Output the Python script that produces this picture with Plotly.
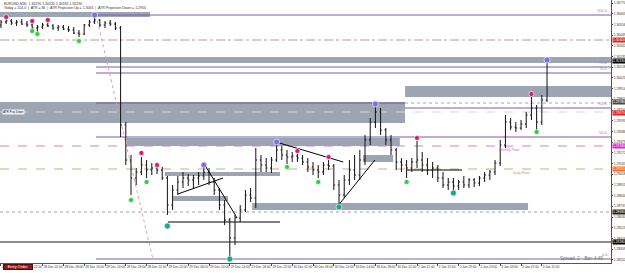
import plotly.graph_objects as go

# ---------------- data ----------------
TIME_TICK_BARS = [0, 4, 8, 12, 16, 20, 24, 28, 32, 36, 40, 44, 48, 52, 56, 60, 64, 68, 72, 76, 80, 84, 88, 92, 96, 100, 104]
TIME_LABELS = ["27 Dec 18:00", "27 Dec 22:00", "28 Dec 02:00", "28 Dec 06:00", "28 Dec 10:00", "28 Dec 14:00",
               "28 Dec 18:00", "28 Dec 22:00", "29 Dec 02:00", "29 Dec 06:00", "29 Dec 10:00", "29 Dec 14:00",
               "29 Dec 18:00", "29 Dec 22:00", "30 Dec 02:00", "30 Dec 06:00", "30 Dec 10:00", "30 Dec 14:00",
               "30 Dec 18:00", "30 Dec 22:00", "2 Jan 11:00", "2 Jan 15:00", "2 Jan 19:00", "2 Jan 23:00",
               "3 Jan 03:00", "3 Jan 07:00", "3 Jan 11:00"]

OPEN_FIRST = 1.3055
HIGH = [1.3060, 1.3062, 1.3061, 1.3060, 1.3061, 1.3059, 1.3057, 1.3055, 1.3057, 1.3058,
        1.3056, 1.3055, 1.3055, 1.3054, 1.3053, 1.3050, 1.3056, 1.3060, 1.3063, 1.3061,
        1.3059, 1.3060, 1.3058, 1.3054, 1.2958, 1.2925, 1.2912, 1.2923, 1.2920, 1.2917,
        1.2914, 1.2913, 1.2904, 1.2895, 1.2904, 1.2908, 1.2906, 1.2905, 1.2908, 1.2913,
        1.2912, 1.2902, 1.2892, 1.2880, 1.2862, 1.2865, 1.2875, 1.2890, 1.2892, 1.2932,
        1.2925, 1.2922, 1.2923, 1.2936, 1.2934, 1.2930, 1.2928, 1.2926, 1.2925, 1.2922,
        1.2918, 1.2915, 1.2918, 1.2920, 1.2916, 1.2900, 1.2905, 1.2920, 1.2925, 1.2930,
        1.2945, 1.2962, 1.2974, 1.2972, 1.2952, 1.2945, 1.2932, 1.2922, 1.2920, 1.2922,
        1.2939, 1.2928, 1.2922, 1.2918, 1.2915, 1.2908, 1.2902, 1.2902, 1.2900, 1.2904,
        1.2902, 1.2902, 1.2904, 1.2908, 1.2910, 1.2920, 1.2940, 1.2965, 1.2962, 1.2958,
        1.2960, 1.2968, 1.2983, 1.2975, 1.2985, 1.3022]
LOW = [1.3052, 1.3056, 1.3055, 1.3054, 1.3055, 1.3053, 1.3051, 1.3048, 1.3051, 1.3053,
       1.3050, 1.3049, 1.3050, 1.3048, 1.3046, 1.3043, 1.3045, 1.3053, 1.3056, 1.3053,
       1.3052, 1.3054, 1.3050, 1.2943, 1.2915, 1.2885, 1.2895, 1.2905, 1.2902, 1.2905,
       1.2906, 1.2900, 1.2865, 1.2870, 1.2885, 1.2892, 1.2894, 1.2892, 1.2895, 1.2900,
       1.2895, 1.2885, 1.2870, 1.2855, 1.2824, 1.2835, 1.2858, 1.2868, 1.2878, 1.2872,
       1.2908, 1.2908, 1.2907, 1.2918, 1.2920, 1.2916, 1.2918, 1.2918, 1.2915, 1.2908,
       1.2905, 1.2902, 1.2905, 1.2910, 1.2890, 1.2876, 1.2882, 1.2895, 1.2900, 1.2900,
       1.2915, 1.2935, 1.2952, 1.2945, 1.2935, 1.2925, 1.2910, 1.2908, 1.2902, 1.2908,
       1.2912, 1.2908, 1.2905, 1.2902, 1.2898, 1.2892, 1.2890, 1.2890, 1.2890, 1.2892,
       1.2892, 1.2893, 1.2894, 1.2898, 1.2900, 1.2905, 1.2914, 1.2932, 1.2950, 1.2948,
       1.2950, 1.2952, 1.2960, 1.2950, 1.2955, 1.2978]
CLOSE = [1.3058, 1.3059, 1.3057, 1.3058, 1.3056, 1.3055, 1.3052, 1.3053, 1.3055, 1.3054,
         1.3052, 1.3053, 1.3051, 1.3050, 1.3047, 1.3046, 1.3055, 1.3058, 1.3060, 1.3055,
         1.3057, 1.3056, 1.3052, 1.2955, 1.2920, 1.2902, 1.2908, 1.2915, 1.2910, 1.2912,
         1.2910, 1.2902, 1.2875, 1.2890, 1.2898, 1.2902, 1.2900, 1.2902, 1.2904, 1.2908,
         1.2898, 1.2890, 1.2875, 1.2860, 1.2842, 1.2862, 1.2870, 1.2885, 1.2882, 1.2920,
         1.2915, 1.2912, 1.2920, 1.2930, 1.2925, 1.2923, 1.2924, 1.2922, 1.2918, 1.2913,
         1.2910, 1.2908, 1.2915, 1.2914, 1.2895, 1.2885, 1.2900, 1.2910, 1.2905, 1.2920,
         1.2940, 1.2958, 1.2968, 1.2950, 1.2940, 1.2930, 1.2918, 1.2915, 1.2912, 1.2918,
         1.2920, 1.2915, 1.2910, 1.2912, 1.2902, 1.2895, 1.2898, 1.2894, 1.2898, 1.2895,
         1.2900, 1.2897, 1.2902, 1.2905, 1.2908, 1.2917, 1.2935, 1.2958, 1.2953, 1.2952,
         1.2956, 1.2965, 1.2972, 1.2958, 1.2980, 1.3019]
BARS = list(range(len(CLOSE)))
OPEN = [OPEN_FIRST] + CLOSE[:-1]

PRICE_TICKS = [1.30770, 1.30663, 1.30556, 1.30449, 1.30342, 1.30235, 1.30128, 1.30021, 1.29914,
               1.29807, 1.29700, 1.29593, 1.29486, 1.29379, 1.29272, 1.29165, 1.29058, 1.28951,
               1.28844, 1.28737, 1.28630, 1.28523, 1.28416, 1.28309, 1.28202]

# swing markers (bar index, price)
HI_BARS = [1, 6, 9, 27, 30, 57, 63, 80, 102]
HI_PRICE = [1.3063, 1.3059, 1.3060, 1.2927, 1.2915, 1.2929, 1.2923, 1.2942, 1.2986]
LO_BARS = [6, 7, 15, 25, 28, 55, 61, 78, 103]
LO_PRICE = [1.3049, 1.3046, 1.3039, 1.2880, 1.2898, 1.2913, 1.2898, 1.2898, 1.2948]
MAJ_HI_BARS = [18, 39, 53, 72, 105]
MAJ_HI_PRICE = [1.3065, 1.2915, 1.2938, 1.2976, 1.3020]
MAJ_LO_BARS = [32, 44, 65, 87]
MAJ_LO_PRICE = [1.2854, 1.2821, 1.2873, 1.2887]

XL, XR = -0.19, 117.3
YB, YT = 1.2817, 1.3080

# supply / demand zones: x0, x1, low, high
ZONES = [(XL, 28.65, 1.3063, 1.3068), (XL, XR, 1.3017, 1.3023), (77.7, XR, 1.2983, 1.2994),
         (XL, 77.7, 1.2957, 1.2978), (24.2, 76.7, 1.2934, 1.2942), (69.6, 75.4, 1.2918, 1.2925),
         (31.5, 53.65, 1.2904, 1.2908), (33.1, 43.65, 1.2879, 1.2884), (48.3, 101.35, 1.2870, 1.2877)]

FIB_START = 18.27
FIB_LEVELS = [("100.0", 1.3065, FIB_START), ("78.6", 1.3013, FIB_START), ("76.4", 1.3007, FIB_START),
              ("61.8", 1.2972, 77.7), ("50.0", 1.2943, FIB_START), ("0.0", 1.2821, FIB_START)]
EXTRA_PURPLE = (FIB_START, 77.7, 1.2977)

# horizontal levels: x0, x1, price, color, width, dash
LEVELS = [(XL, XR, 1.3040, "#b89a9a", 1, "dashdot"),
          (77.7, XR, 1.2977, "#a8a8a8", 1, "dot"),
          (XL, XR, 1.2968, "#d8d8d8", 1, "dash"),
          (XL, XR, 1.2934, "#d67fd8", 1, "dash"),
          (XL, XR, 1.2911, "#c9ab8c", 1, "dash"),
          (XL, XR, 1.2868, "#a0a0a0", 1, "dot"),
          (XL, XR, 1.2838, "#8c8c8c", 2, "solid"),
          (32.1, 53.65, 1.2858, "#000000", 1, "solid"),
          (78.1, 88.65, 1.2910, "#000000", 1, "solid")]

# trend lines: x0, p0, x1, p1
TRENDS = [(39.2, 1.2915, 45.4, 1.2862), (34.0, 1.2886, 42.7, 1.2902),
          (52.9, 1.2938, 65.8, 1.2918), (64.6, 1.2873, 71.9, 1.2920)]
FIB_DIAG = (18.27, 1.3065, 29.2, 1.2821)

# right-axis price flags: price, text, bg
FLAGS = [(1.3040, "1.30400", "#e02020"), (1.3019, "1.30190", "#000000"), (1.2978, "1.29780", "#4a4a4a"),
         (1.2967, "1.29670", "#e02020"), (1.2934, "1.29340", "#e020e0"), (1.2911, "1.29110", "#f07020"),
         (1.2868, "1.28680", "#202020"), (1.2838, "1.28380", "#000000")]

# ---------------- figure ----------------
fig = go.Figure()
fig.add_trace(go.Ohlc(
    x=BARS, open=OPEN, high=HIGH, low=LOW, close=CLOSE, tickwidth=0.25,
    increasing=dict(line=dict(color="#111111", width=1)),
    decreasing=dict(line=dict(color="#111111", width=1)),
    hoverinfo="skip"))

def dots(xs, ys, color, size):
    fig.add_trace(go.Scatter(x=xs, y=ys, mode="markers", hoverinfo="skip",
                             marker=dict(size=size, color=color, line=dict(width=0.6, color="#ffffff"))))

dots(HI_BARS, HI_PRICE, "#d0206a", 5)
dots(LO_BARS, LO_PRICE, "#2fcf3a", 5)
dots(MAJ_HI_BARS, MAJ_HI_PRICE, "#7b72e8", 6)
dots(MAJ_LO_BARS, MAJ_LO_PRICE, "#19a88a", 6)

shapes = []
for x0, x1, lo, hi in ZONES:
    shapes.append(dict(type="rect", xref="x", yref="y", x0=x0, x1=x1, y0=lo, y1=hi,
                       fillcolor="#9ca5b1", line=dict(width=0), layer="below"))
for _, p, x0 in FIB_LEVELS:
    shapes.append(dict(type="line", xref="x", yref="y", x0=x0, x1=XR, y0=p, y1=p,
                       line=dict(color="#7d5ca3", width=1), layer="below"))
shapes.append(dict(type="line", xref="x", yref="y", x0=EXTRA_PURPLE[0], x1=EXTRA_PURPLE[1],
                   y0=EXTRA_PURPLE[2], y1=EXTRA_PURPLE[2], line=dict(color="#7d5ca3", width=1), layer="below"))
for x0, x1, p, c, w, d in LEVELS:
    shapes.append(dict(type="line", xref="x", yref="y", x0=x0, x1=x1, y0=p, y1=p,
                       line=dict(color=c, width=w, dash=d), layer="below"))
for x0, p0, x1, p1 in TRENDS:
    shapes.append(dict(type="line", xref="x", yref="y", x0=x0, x1=x1, y0=p0, y1=p1,
                       line=dict(color="black", width=1), layer="below"))
shapes.append(dict(type="line", xref="x", yref="y", x0=FIB_DIAG[0], x1=FIB_DIAG[2], y0=FIB_DIAG[1],
                   y1=FIB_DIAG[3], line=dict(color="#d9a3b5", width=1, dash="dot"), layer="below"))

FONT = "Liberation Sans Narrow, Liberation Sans"
ann = []
for txt, p, _ in FIB_LEVELS:
    ann.append(dict(xref="paper", yref="y", x=0.999, y=p, text=txt, showarrow=False, xanchor="right",
                    yanchor="bottom", font=dict(size=4, color="#a07cc8", family=FONT)))
for p, txt, bg in FLAGS:
    ann.append(dict(xref="paper", yref="y", x=1.001, y=p, text=txt, showarrow=False, xanchor="left",
                    yanchor="middle", bgcolor=bg, borderpad=0,
                    font=dict(size=3.3, color="white", family=FONT)))
ann.append(dict(xref="x", yref="y", x=97.7, y=1.2934, text="Weekly Pivot", showarrow=False,
                yanchor="top", font=dict(size=3.5, color="#c070c0", family=FONT)))
ann.append(dict(xref="x", yref="y", x=100.0, y=1.2911, text="Daily Pivot", showarrow=False,
                yanchor="top", font=dict(size=3.5, color="#c09070", family=FONT)))
ann.append(dict(xref="paper", yref="y", x=0.003, y=1.2968, text="ATR Proj Down", showarrow=False,
                xanchor="left", yanchor="middle", bgcolor="#f2f2f2", borderpad=0,
                font=dict(size=3, color="#222", family=FONT)))
ann.append(dict(xref="paper", yref="paper", x=0.003, y=1.0, text="EURUSD,M30  1.30190 1.30220 1.30180 1.30190",
                showarrow=False, xanchor="left", yanchor="top",
                font=dict(size=3.5, color="#333", family=FONT)))
ann.append(dict(xref="paper", yref="paper", x=0.003, y=0.983,
                text="Today = 104.0  |  ATR = 86  |  ATR Projection Up = 1.3064  |  ATR Projection Down = 1.2950",
                showarrow=False, xanchor="left", yanchor="top",
                font=dict(size=3.5, color="#333", family=FONT)))
ann.append(dict(xref="paper", yref="paper", x=0.99, y=0.0, text="Spread: 2&nbsp;&nbsp;&nbsp;&nbsp;Bar: 4:49",
                showarrow=False, xanchor="right", yanchor="bottom",
                font=dict(size=4.5, color="#707070", family=FONT)))
ann.append(dict(xref="paper", yref="paper", x=0.005, y=-0.004, text="Entry Order", showarrow=False,
                xanchor="left", yanchor="top", bgcolor="#8e1b1b", bordercolor="#5a0a0a", borderwidth=1,
                borderpad=0, width=28, font=dict(size=3.8, color="white", family=FONT)))

fig.update_layout(
    width=625, height=273, margin=dict(l=0, r=14, t=0, b=10),
    paper_bgcolor="white", plot_bgcolor="white", showlegend=False, hovermode=False,
    shapes=shapes, annotations=ann,
    xaxis=dict(range=[XL, XR], showgrid=False, zeroline=False, rangeslider=dict(visible=False),
               tickvals=TIME_TICK_BARS, ticktext=TIME_LABELS, ticks="outside", ticklen=2,
               tickcolor="#444", ticklabelposition="outside right", tickangle=0,
               tickfont=dict(size=3.2, color="#333", family=FONT),
               showline=True, linecolor="#555", linewidth=1, mirror=True, automargin=False),
    yaxis=dict(range=[YB, YT], side="right", showgrid=False, zeroline=False,
               tickvals=PRICE_TICKS, ticktext=[f"{v:.5f}" for v in PRICE_TICKS],
               ticks="outside", ticklen=1, tickcolor="#444",
               tickfont=dict(size=3.3, color="#333", family=FONT),
               showline=True, linecolor="#555", linewidth=1, mirror=True, automargin=False),
)
fig.write_html("out.html")
